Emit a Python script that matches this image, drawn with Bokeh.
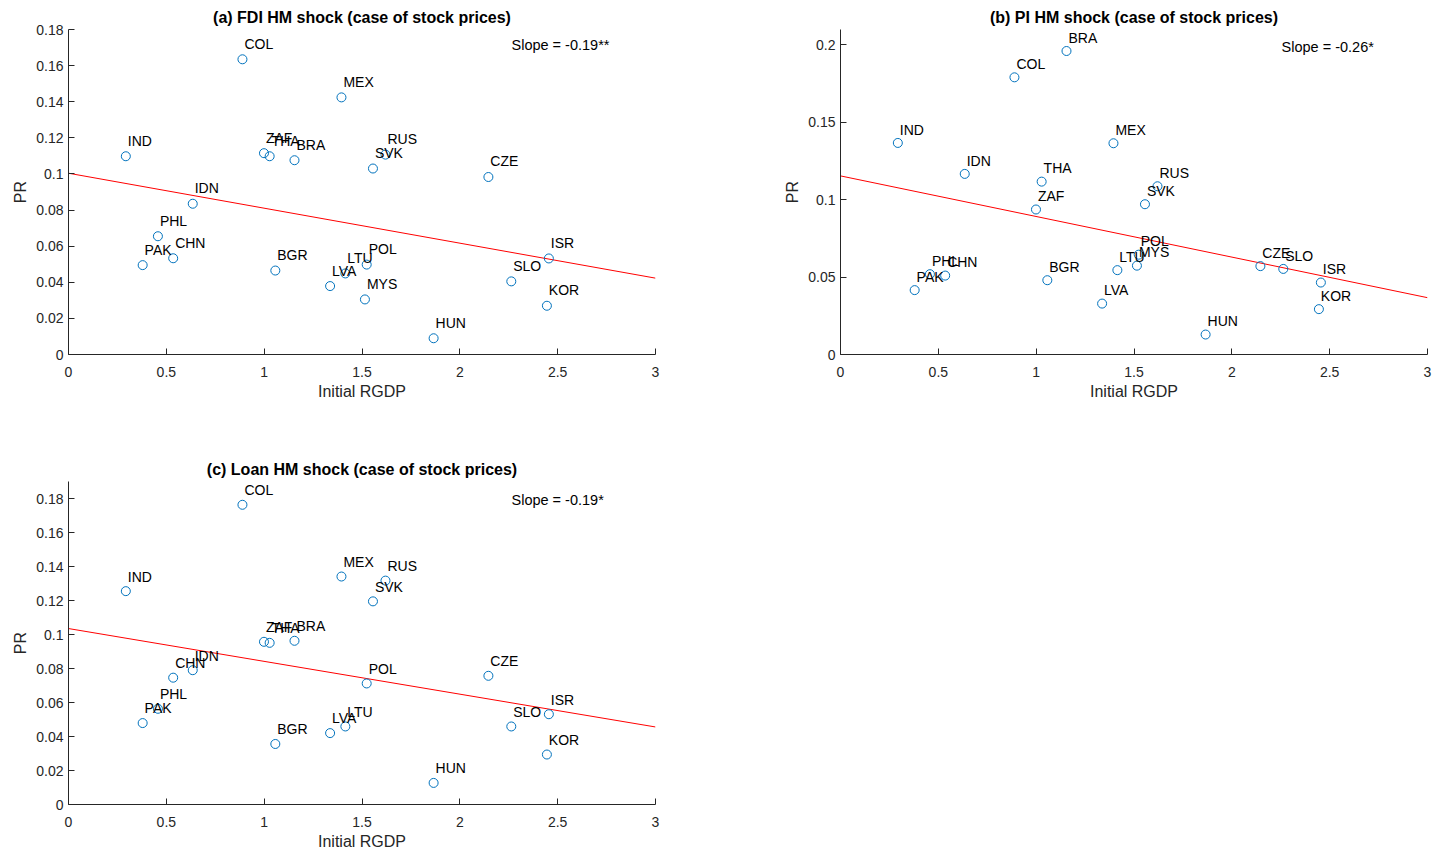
from bokeh.plotting import figure
from bokeh.layouts import column, row
from bokeh.models import Range1d, FixedTicker, Label, ColumnDataSource
from bokeh.core.properties import value
from bokeh.embed import file_html
from bokeh.resources import INLINE
import math

# ---------------- data ----------------
countries = ["IND", "COL", "MEX", "ZAF", "THA", "BRA", "SVK", "RUS", "CZE", "IDN", "PHL",
             "PAK", "CHN", "BGR", "LVA", "LTU", "POL", "MYS", "HUN", "SLO", "ISR", "KOR"]
initial_rgdp = [0.293, 0.889, 1.395, 0.999, 1.028, 1.155, 1.556, 1.620, 2.146, 0.635, 0.457,
                0.379, 0.535, 1.057, 1.337, 1.415, 1.524, 1.515, 1.866, 2.263, 2.455, 2.445]
pr_fdi = [0.1098, 0.1635, 0.1424, 0.1115, 0.1098, 0.1076, 0.1030, 0.1107, 0.0983, 0.0835, 0.0655,
          0.0495, 0.0533, 0.0465, 0.0379, 0.0449, 0.0498, 0.0305, 0.0090, 0.0405, 0.0532, 0.0270]
pr_pi = [0.1367, 0.1791, 0.1365, 0.0937, 0.1117, 0.1961, 0.0971, 0.1087, 0.0571, 0.1167, 0.0519,
         0.0416, 0.0510, 0.0480, 0.0329, 0.0545, 0.0645, 0.0574, 0.0129, 0.0553, 0.0465, 0.0293]
pr_loan = [0.1255, 0.1763, 0.1341, 0.0957, 0.0951, 0.0963, 0.1195, 0.1317, 0.0757, 0.0790, 0.0563,
           0.0479, 0.0746, 0.0356, 0.0420, 0.0459, 0.0712, float("nan"), 0.0127, 0.0459, 0.0531, 0.0294]

# fitted lines: (intercept, slope)
fit_fdi = (0.1004, -0.01937)
fit_pi = (0.1154, -0.02623)
fit_loan = (0.1035, -0.01930)

titles = ["(a) FDI HM shock (case of stock prices)",
          "(b) PI HM shock (case of stock prices)",
          "(c) Loan HM shock (case of stock prices)"]
slope_texts = ["Slope = -0.19**", "Slope = -0.26*", "Slope = -0.19*"]

x_ticks = [0, 0.5, 1, 1.5, 2, 2.5, 3]
x_tick_labels = ["0", "0.5", "1", "1.5", "2", "2.5", "3"]
y_ticks_ac = [0, 0.02, 0.04, 0.06, 0.08, 0.1, 0.12, 0.14, 0.16, 0.18]
y_tick_labels_ac = ["0", "0.02", "0.04", "0.06", "0.08", "0.1", "0.12", "0.14", "0.16", "0.18"]
y_ticks_b = [0, 0.05, 0.1, 0.15, 0.2]
y_tick_labels_b = ["0", "0.05", "0.1", "0.15", "0.2"]

FONT = "Liberation Sans"
AX = "#262626"
BLUE = "#0072BD"


def panel(title, pr, fit, ymax, yticks, ylabels, slope_text, slope_xy,
          left, right, top, bottom):
    frame_w, frame_h = 587, 325
    p = figure(width=left + frame_w + right, height=top + frame_h + bottom,
               x_range=Range1d(0, 3), y_range=Range1d(0, ymax),
               output_backend="svg", toolbar_location=None,
               min_border_left=left, min_border_right=right,
               min_border_top=top, min_border_bottom=bottom,
               title=title)
    p.outline_line_color = None
    p.grid.visible = False
    p.background_fill_color = "white"
    p.border_fill_color = "white"

    p.title.align = "center"
    p.title.text_font = FONT
    p.title.text_font_size = "16px"
    p.title.text_font_style = "bold"
    p.title.text_color = "black"
    p.title.standoff = 7

    for ax in (p.xaxis[0], p.yaxis[0]):
        ax.axis_line_color = AX
        ax.axis_line_width = 1
        ax.major_tick_line_color = AX
        ax.major_tick_in = 6
        ax.major_tick_out = 0
        ax.minor_tick_line_color = None
        ax.major_label_text_font = FONT
        ax.major_label_text_font_size = "14px"
        ax.major_label_text_color = AX
        ax.axis_label_text_font = FONT
        ax.axis_label_text_font_size = "16px"
        ax.axis_label_text_font_style = "normal"
        ax.axis_label_text_color = AX

    p.xaxis.ticker = FixedTicker(ticks=x_ticks)
    p.xaxis.major_label_overrides = {t: s for t, s in zip(x_ticks, x_tick_labels)}
    p.xaxis.axis_label = "Initial RGDP"
    p.xaxis.major_label_standoff = 12
    p.xaxis.axis_label_standoff = 3

    p.yaxis.ticker = FixedTicker(ticks=yticks)
    p.yaxis.major_label_overrides = {t: s for t, s in zip(yticks, ylabels)}
    p.yaxis.axis_label = "PR"
    p.yaxis.major_label_standoff = 5
    p.yaxis.axis_label_standoff = 4

    xs, ys, names = [], [], []
    for c, xv, yv in zip(countries, initial_rgdp, pr):
        if yv is None or (isinstance(yv, float) and math.isnan(yv)):
            continue
        xs.append(xv)
        ys.append(yv)
        names.append(c)
    src = ColumnDataSource(dict(x=xs, y=ys, name=names,
                                lx=[v + 0.01 for v in xs],
                                ly=[v + 0.0086 for v in ys]))

    b0, b1 = fit
    p.line(x=[0, 3], y=[b0, b0 + 3 * b1], line_color="#FF0000", line_width=1)

    p.scatter(x="x", y="y", source=src, marker="circle", size=9,
              fill_color=None, line_color=BLUE, line_width=1)
    p.text(x="lx", y="ly", text="name", source=src, text_font=value(FONT),
           text_font_size="14px", text_color="black",
           text_align="left", text_baseline="middle")

    p.add_layout(Label(x=slope_xy[0], y=slope_xy[1], text=slope_text,
                       text_font=FONT, text_font_size="14.5px", text_color="black",
                       text_align="left", text_baseline="middle"))
    return p


pa = panel(titles[0], pr_fdi, fit_fdi, 0.18, y_ticks_ac, y_tick_labels_ac,
           slope_texts[0], (2.264, 0.1713), left=68, right=90, top=29, bottom=60)
pb = panel(titles[1], pr_pi, fit_pi, 0.21, y_ticks_b, y_tick_labels_b,
           slope_texts[1], (2.254, 0.199), left=95, right=6, top=29, bottom=60)
pc = panel(titles[2], pr_loan, fit_loan, 0.19, y_ticks_ac, y_tick_labels_ac,
           slope_texts[2], (2.264, 0.179), left=68, right=90, top=67, bottom=46)

layout = column(row(pa, pb), pc)

open("out.html", "w").write(file_html(layout, INLINE))
